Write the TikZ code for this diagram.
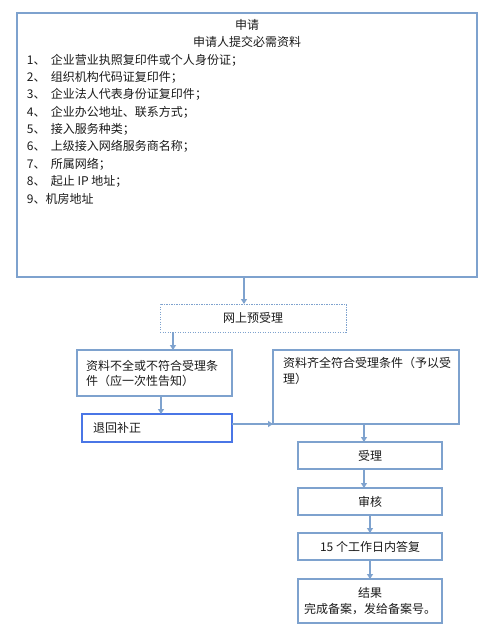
\documentclass[tikz,border=0pt]{standalone}
\usepackage{fontspec}
\setmainfont{Noto Sans CJK SC}
\usetikzlibrary{arrows.meta}
\definecolor{bord}{HTML}{7EA2CE}
\definecolor{bbord}{HTML}{4A76E6}
\definecolor{txt}{HTML}{1A1A1A}
\begin{document}
\begin{tikzpicture}[x=1pt,y=-1pt,
  box/.style={draw=bord, line width=1.3pt, rectangle, outer sep=0pt, inner sep=0pt},
  arr/.style={draw=bord, line width=1.3pt, -{Triangle[length=5pt,width=6pt]}},
  txtn/.style={font=\fontsize{12}{15}\selectfont, text=txt, inner sep=0pt, outer sep=0pt}]
\useasboundingbox (0,0) rectangle (485,640);
% big box
\node[box, minimum width=460pt, minimum height=264pt] (big) at (247,145) {};
\node[txtn] (t1) at (247,25) {申请};
\node[txtn] (t2) at (247,42) {申请人提交必需资料};
\node[txtn, anchor=west] (l1) at (27,60) {\makebox[24pt][l]{1、}企业营业执照复印件或个人身份证；};
\node[txtn, anchor=west] (l2) at (27,77.35) {\makebox[24pt][l]{2、}组织机构代码证复印件；};
\node[txtn, anchor=west] (l3) at (27,94.7) {\makebox[24pt][l]{3、}企业法人代表身份证复印件；};
\node[txtn, anchor=west] (l4) at (27,112.05) {\makebox[24pt][l]{4、}企业办公地址、联系方式；};
\node[txtn, anchor=west] (l5) at (27,129.4) {\makebox[24pt][l]{5、}接入服务种类；};
\node[txtn, anchor=west] (l6) at (27,146.75) {\makebox[24pt][l]{6、}上级接入网络服务商名称；};
\node[txtn, anchor=west] (l7) at (27,164.1) {\makebox[24pt][l]{7、}所属网络；};
\node[txtn, anchor=west] (l8) at (27,181.45) {\makebox[24pt][l]{8、}起止 IP 地址；};
\node[txtn, anchor=west] (l9) at (27,198.8) {9、机房地址};
% online pre-acceptance
\node[box, txtn, line width=1pt, dash pattern=on 1.2pt off 1.3pt, minimum width=186pt, minimum height=28pt] (net) at (253,318) {网上预受理};
% left box
\node[box, txtn, minimum width=155pt, minimum height=46pt, text width=137pt, align=left] (left) at (154.5,373) {资料不全或不符合受理条\\件（应一次性告知）};
% right box
\node[box, minimum width=186pt, minimum height=74pt] (right) at (366,387) {};
\node[txtn, anchor=north west, align=left, font=\fontsize{12}{16}\selectfont] (rtext) at (283,357) {资料齐全符合受理条件（予以受\\理）};
% back box
\node[box, txtn, draw=bbord, minimum width=150pt, minimum height=28pt, text width=128pt, align=left] (back) at (157,428) {退回补正};
% chain
\node[box, txtn, minimum width=144pt, minimum height=27pt] (acc) at (370,455.5) {受理};
\node[box, txtn, minimum width=144pt, minimum height=27pt] (rev) at (370,501.5) {审核};
\node[box, txtn, minimum width=144pt, minimum height=27pt] (ans) at (370,546.5) {15 个工作日内答复};
\node[box, txtn, font=\fontsize{12}{16}\selectfont, minimum width=144pt, minimum height=44pt, align=center] (res) at (370,601) {结果\\完成备案，发给备案号。};
% arrows
\draw[arr] ([xshift=-3pt]big.south) -- ([xshift=-9pt]net.north);
\draw[arr] ([xshift=-80pt]net.south) -- ([xshift=18.5pt]left.north);
\draw[arr] ([xshift=6.5pt]left.south) -- ([xshift=4pt]back.north);
\draw[arr] ([yshift=4pt]back.east) -- (right.south west);
\draw[arr] ([xshift=-2pt]right.south) -- ([xshift=-6pt]acc.north);
\draw[arr] ([xshift=-6pt]acc.south) -- ([xshift=-6pt]rev.north);
\draw[arr] (rev.south) -- (ans.north);
\draw[arr] (ans.south) -- (res.north);
\end{tikzpicture}
\end{document}
